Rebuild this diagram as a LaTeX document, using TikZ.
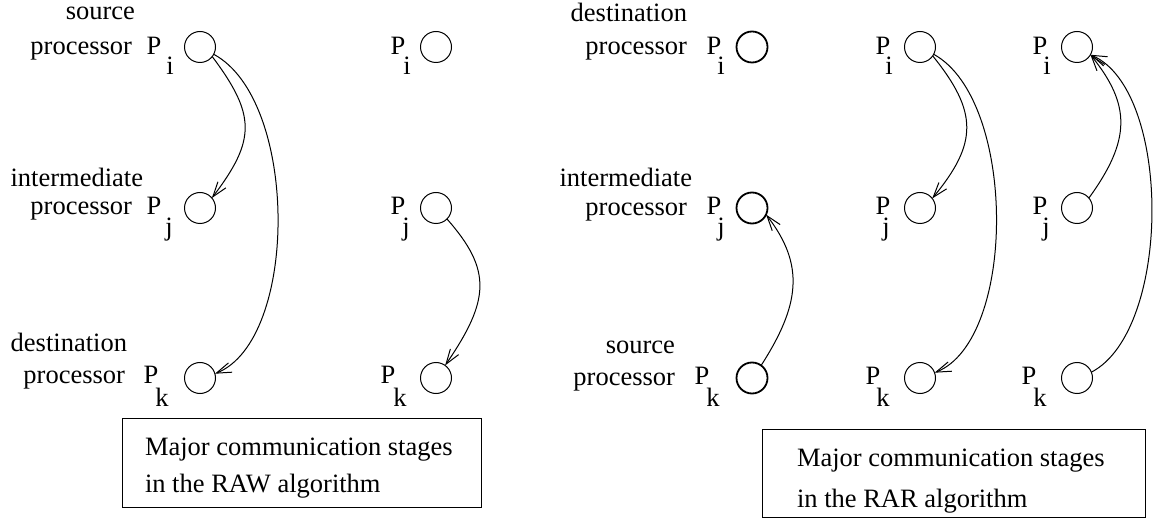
\documentclass[tikz,border=0pt]{standalone}
\usepackage{fontspec}
\setmainfont{Liberation Serif}
\usetikzlibrary{arrows.meta}
\newcommand\psub[3]{P\kern#1pt\raisebox{-#3pt}{#2}}
\begin{document}
\begin{tikzpicture}[x=1pt,y=-1pt,
  every node/.style={font=\fontsize{26.5}{30}\selectfont, inner sep=0pt, outer sep=0pt},
  proc/.style={circle, draw, line width=1pt, minimum size=31pt},
  thickproc/.style={proc, line width=1.8pt},
  lbl/.style={anchor=base east},
  pl/.style={anchor=base west},
  link/.style={line width=1pt, -{Straight Barb[length=15pt,width=10pt,line width=1pt]}},
  msgbox/.style={draw, line width=1pt, rectangle}]
\useasboundingbox (0,0) rectangle (1156,518);

% ---- circles ----
\node[proc] (c1i) at (200,47) {};
\node[proc] (c1j) at (200,208) {};
\node[proc] (c1k) at (200,378) {};
\node[proc] (c2i) at (436,47) {};
\node[proc] (c2j) at (436,208) {};
\node[proc] (c2k) at (436,378) {};
\node[thickproc] (c3i) at (752,47) {};
\node[thickproc] (c3j) at (752,208) {};
\node[thickproc] (c3k) at (752,378) {};
\node[proc] (c4i) at (920,47) {};
\node[proc] (c4j) at (920,208) {};
\node[proc] (c4k) at (920,378) {};
\node[proc] (c5i) at (1077,47) {};
\node[proc] (c5j) at (1077,208) {};
\node[proc] (c5k) at (1077,378) {};

% ---- P labels with subscripts ----
\node[pl] (p1i) at (146.6,55)  {\psub{5}{i}{20}};
\node[pl] (p1j) at (146.6,215) {\psub{4}{j}{21}};
\node[pl] (p1k) at (143.6,383) {\psub{-3}{k}{23}};
\node[pl] (p2i) at (390.6,55)  {\psub{-2}{i}{20}};
\node[pl] (p2j) at (390.6,215) {\psub{-3}{j}{21}};
\node[pl] (p2k) at (380.6,383) {\psub{-2}{k}{23}};
\node[pl] (p3i) at (706.6,55)  {\psub{-4}{i}{20}};
\node[pl] (p3j) at (706.6,215) {\psub{-4}{j}{21}};
\node[pl] (p3k) at (694.6,384) {\psub{-3}{k}{22}};
\node[pl] (p4i) at (875.6,55)  {\psub{-5}{i}{20}};
\node[pl] (p4j) at (875.6,215) {\psub{-8}{j}{21}};
\node[pl] (p4k) at (865.6,384) {\psub{-4}{k}{22}};
\node[pl] (p5i) at (1032.6,55) {\psub{-4}{i}{20}};
\node[pl] (p5j) at (1032.6,215){\psub{-5}{j}{21}};
\node[pl] (p5k) at (1021.6,384){\psub{-3}{k}{22}};

% ---- role labels ----
\node[lbl] (l1a) at (135,20) {source};
\node[lbl] (l1b) at (132,55) {processor};
\node[lbl] (l1c) at (143,187) {intermediate};
\node[lbl] (l1d) at (132,215) {processor};
\node[lbl] (l1e) at (127,352) {destination};
\node[lbl] (l1f) at (125,383) {processor};
\node[lbl] (l3a) at (687,22) {destination};
\node[lbl] (l3b) at (687,55) {processor};
\node[lbl] (l3c) at (692,187) {intermediate};
\node[lbl] (l3d) at (687,216) {processor};
\node[lbl] (l3e) at (675,353) {source};
\node[lbl] (l3f) at (675,385) {processor};

% ---- connectors ----
\draw[link] (c1i.-38) .. controls (256,115) and (256,140) .. (c1j.40);
\draw[link] (c1i.-28) .. controls (299,100) and (299,340) .. (c1k.16);
\draw[link] (c2j.-45) .. controls (492,270) and (490,300) .. (c2k.54);
\draw[link] (c3k.54) .. controls (800,305) and (805,265) .. (c3j.-25);
\draw[link] (c4i.-35) .. controls (978,112) and (978,143) .. (c4j.38);
\draw[link] (c4i.-28) .. controls (1017,100) and (1017,340) .. (c4k.20);
\draw[link] (c5j.40) .. controls (1131,140) and (1131,105) .. (c5i.-30);
\draw[link] (c5k.22) .. controls (1172,330) and (1172,90) .. (c5i.-30);

% ---- boxes ----
\node[msgbox, minimum width=359pt, minimum height=89pt] (rawbox) at (301.5,462.5) {};
\node[anchor=base west] (raw1) at (145,455) {Major communication stages};
\node[anchor=base west] (raw2) at (145,492) {in the RAW algorithm};
\node[msgbox, minimum width=383pt, minimum height=88pt] (rarbox) at (953.5,473) {};
\node[anchor=base west] (rar1) at (797,466) {Major communication stages};
\node[anchor=base west] (rar2) at (797,507) {in the RAR algorithm};
\end{tikzpicture}
\end{document}
